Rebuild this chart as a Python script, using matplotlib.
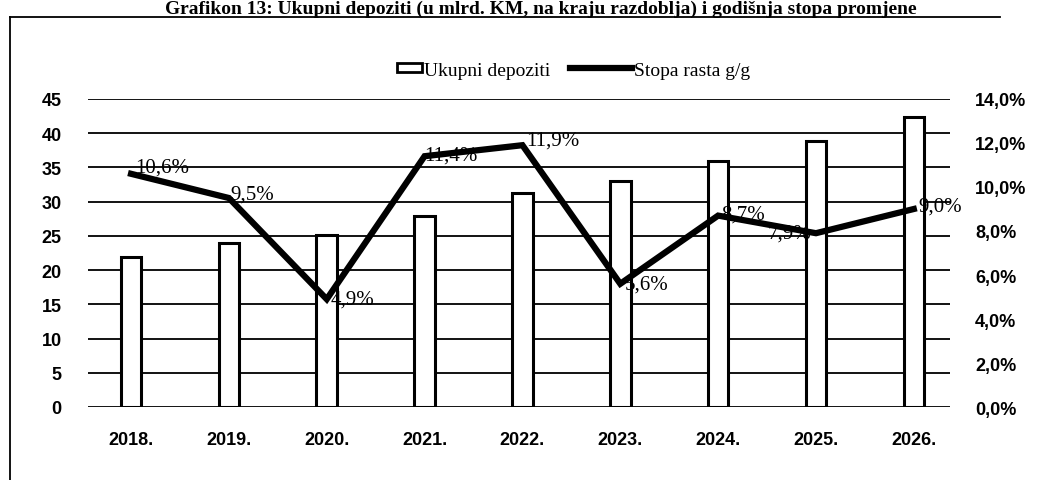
import matplotlib.pyplot as plt
from matplotlib.lines import Line2D
from matplotlib.patches import Patch
import numpy as np

godine = ['2018.', '2019.', '2020.', '2021.', '2022.', '2023.', '2024.', '2025.', '2026.']
depoziti = [21.9, 24.0, 25.1, 27.9, 31.2, 33.0, 35.9, 38.8, 42.3]
stopa = [10.6, 9.5, 4.9, 11.4, 11.9, 5.6, 8.7, 7.9, 9.0]
lijeve_oznake = [0, 5, 10, 15, 20, 25, 30, 35, 40, 45]
desne_oznake = [0, 2, 4, 6, 8, 10, 12, 14]

serif = ['Liberation Serif', 'DejaVu Serif']
narrow = ['Liberation Sans Narrow', 'Liberation Sans', 'DejaVu Sans']

fig = plt.figure(figsize=(10.4, 4.81), dpi=100)
ax = fig.add_axes([88/1040, 1-408/481, 862/1040, 308/481])
ax2 = ax.twinx()

x = np.arange(len(godine))
ax.set_zorder(1)
ax2.set_zorder(2)
ax.patch.set_visible(False)

for v in lijeve_oznake:
    ax.axhline(v, color='black', lw=1.3, zorder=1)
ax.bar(x, depoziti, width=0.21, color='white', edgecolor='black', lw=2.2, zorder=3)

ax2.plot(x, stopa, color='black', lw=4.5, solid_joinstyle='miter', zorder=5)
# pomaci natpisa (u tockama) procitani sa slike
pomaci = [(3, 5), (1, 3), (3, 0), (0, 1), (3, 4), (3, 0), (2, 1), (-3, 0), (3, 2)]
for i, s in enumerate(stopa):
    lbl = f'{s:.1f}%'.replace('.', ',')
    ax2.annotate(lbl, (x[i], s), xytext=pomaci[i], textcoords='offset points',
                 ha='right' if i == 7 else 'left', va='center',
                 family=serif, fontsize=15)

ax.set_xlim(-0.44, 8.37)
ax.set_ylim(0, 45)
ax2.set_ylim(0, 14)
ax.set_yticks(lijeve_oznake)
ax2.set_yticks(desne_oznake)
ax2.set_yticklabels([f'{v:.1f}%'.replace('.', ',') for v in desne_oznake])
ax.set_xticks(x)
ax.set_xticklabels(godine)

for a in (ax, ax2):
    for sp in a.spines.values():
        sp.set_visible(False)
    a.tick_params(length=0)
ax.tick_params(axis='y', pad=19)
ax2.tick_params(axis='y', pad=18)
ax.tick_params(axis='x', pad=17)
for t in ax.get_yticklabels() + ax.get_xticklabels() + ax2.get_yticklabels():
    t.set_family(narrow)
    t.set_fontweight('bold')
    t.set_fontsize(13)

leg1 = fig.legend([Patch(facecolor='white', edgecolor='black', lw=2)], ['Ukupni depoziti'],
                  loc='center left', bbox_to_anchor=(397/1040, 1-71/481), frameon=False,
                  prop={'family': serif, 'size': 14}, handlelength=1.3, handleheight=0.35,
                  handletextpad=0.1, borderpad=0, borderaxespad=0)
leg2 = fig.legend([Line2D([0], [0], color='black', lw=4.5)], ['Stopa rasta g/g'],
                  loc='center left', bbox_to_anchor=(570/1040, 1-71/481), frameon=False,
                  prop={'family': serif, 'size': 14}, handlelength=3.2,
                  handletextpad=0.1, borderpad=0, borderaxespad=0)

fig.text(0.52, 1-14/481, 'Grafikon 13: Ukupni depoziti (u mlrd. KM, na kraju razdoblja) i godišnja stopa promjene',
         ha='center', va='baseline', family=serif, fontweight='bold', fontsize=14)
fig.add_artist(Line2D([10/1040, 1000/1040], [1-18/481, 1-18/481], color='black', lw=1.3))
fig.add_artist(Line2D([10/1040, 10/1040], [1-18/481, 0], color='black', lw=1.3))

fig.savefig('out.png', dpi=100)
